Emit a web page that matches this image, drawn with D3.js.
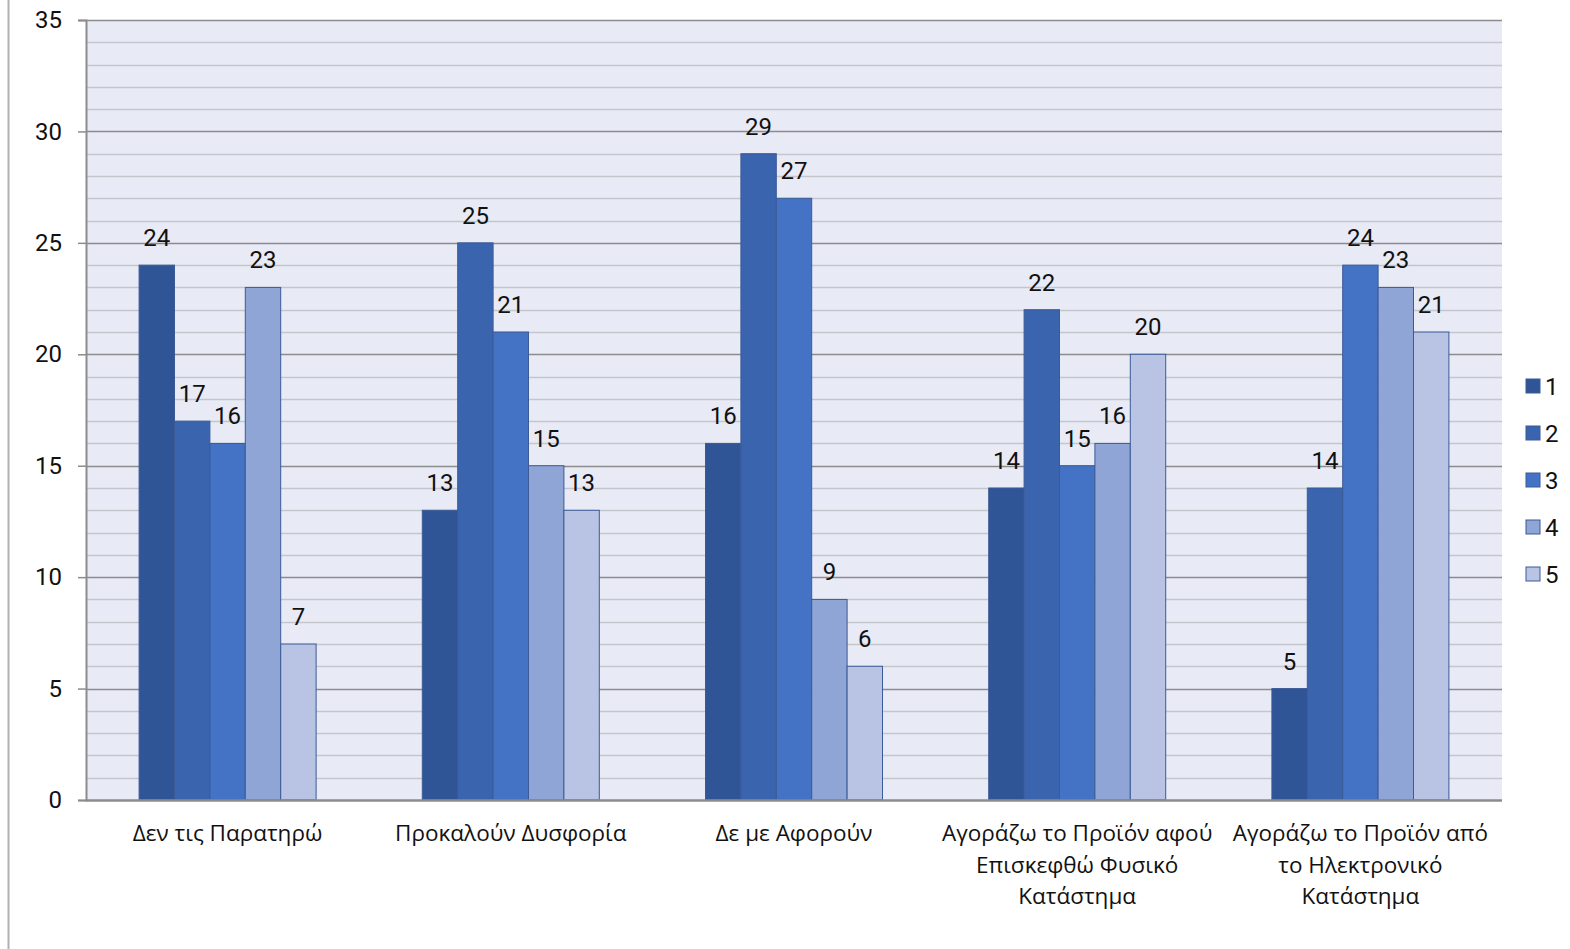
<!DOCTYPE html>
<html>
<head>
<meta charset="utf-8">
<script src="https://cdn.jsdelivr.net/npm/d3@7"></script>
<style>
  body { margin: 0; background: #fff; }
  svg { display: block; }
</style>
</head>
<body>
<svg class="mainSvg" width="1570" height="949"></svg>
<script>
// categories and series straight off the picture
var categories = [
  "Δεν τις Παρατηρώ",
  "Προκαλούν Δυσφορία",
  "Δε με Αφορούν",
  "Αγοράζω το Προϊόν αφού Επισκεφθώ Φυσικό Κατάστημα",
  "Αγοράζω το Προϊόν από το Ηλεκτρονικό Κατάστημα"
];
var catLines = [
  ["Δεν τις Παρατηρώ"],
  ["Προκαλούν Δυσφορία"],
  ["Δε με Αφορούν"],
  ["Αγοράζω το Προϊόν αφού", "Επισκεφθώ Φυσικό", "Κατάστημα"],
  ["Αγοράζω το Προϊόν από", "το Ηλεκτρονικό", "Κατάστημα"]
];
var seriesNames = ["1", "2", "3", "4", "5"];
var s1 = [24, 13, 16, 14, 5];
var s2 = [17, 25, 29, 22, 14];
var s3 = [16, 21, 27, 15, 24];
var s4 = [23, 15, 9, 16, 23];
var s5 = [7, 13, 6, 20, 21];
var yTicks = [0, 5, 10, 15, 20, 25, 30, 35];

var series = [s1, s2, s3, s4, s5];
var colors = ["#2f5597", "#3a64ad", "#4472c4", "#8fa5d6", "#b9c3e3"];

var svg = d3.select(".mainSvg");
var plotLeft = 86, plotRight = 1502, plotTop = 20, plotBottom = 800;

// left frame line
svg.append("line").attr("x1", 8.5).attr("x2", 8.5).attr("y1", 0).attr("y2", 949)
  .attr("stroke", "#b0b0b0").attr("stroke-width", 2);

var y = d3.scaleLinear().domain([0, 35]).range([plotBottom, plotTop]);
var x0 = d3.scaleBand().domain(d3.range(categories.length)).range([plotLeft, plotRight]);
var x1 = d3.scaleBand().domain(d3.range(seriesNames.length)).range([0, 177]);
var groupOff = (x0.bandwidth() - 177) / 2;

svg.append("rect").attr("x", plotLeft).attr("y", plotTop)
  .attr("width", plotRight - plotLeft).attr("height", plotBottom - plotTop)
  .attr("fill", "#e8eaf6");

// minor grid every unit
svg.append("g").selectAll("line").data(d3.range(1, 36).filter(function(d){ return d % 5 != 0; }))
  .enter().append("line")
  .attr("x1", plotLeft).attr("x2", plotRight)
  .attr("y1", function(d){ return Math.round(y(d)) + 0.5; })
  .attr("y2", function(d){ return Math.round(y(d)) + 0.5; })
  .attr("stroke", "#c4c6cc").attr("stroke-width", 1.5);

// major grid
svg.append("g").selectAll("line").data(yTicks.filter(function(d){ return d > 0; }))
  .enter().append("line")
  .attr("x1", plotLeft).attr("x2", plotRight)
  .attr("y1", function(d){ return Math.round(y(d)) + 0.5; })
  .attr("y2", function(d){ return Math.round(y(d)) + 0.5; })
  .attr("stroke", "#8c8c8c").attr("stroke-width", 1.5);

// y axis
var yAxis = svg.append("g").attr("transform", "translate(" + plotLeft + ",0)")
  .call(d3.axisLeft(y).tickValues(yTicks).tickSize(8).tickPadding(16));
yAxis.select(".domain").attr("stroke", "#8c8c8c").attr("stroke-width", 2);
yAxis.selectAll(".tick line").attr("stroke", "#8c8c8c").attr("stroke-width", 1.5);
yAxis.selectAll("text").attr("font-family", "Roboto").attr("font-size", 24).attr("fill", "#111");

// bars
var groups = svg.append("g").selectAll("g").data(categories).enter().append("g")
  .attr("transform", function(d, i){ return "translate(" + (x0(i) + groupOff) + ",0)"; });

groups.selectAll("rect").data(function(d, i){ return series.map(function(s, j){ return {j: j, v: s[i]}; }); })
  .enter().append("rect")
  .attr("x", function(d){ return x1(d.j); })
  .attr("width", x1.bandwidth())
  .attr("y", function(d){ return y(d.v); })
  .attr("height", function(d){ return plotBottom - y(d.v); })
  .attr("fill", function(d){ return colors[d.j]; })
  .attr("stroke", "#3b5a96").attr("stroke-width", 1);

groups.selectAll("text").data(function(d, i){ return series.map(function(s, j){ return {j: j, v: s[i]}; }); })
  .enter().append("text")
  .attr("x", function(d){ return x1(d.j) + x1.bandwidth() / 2; })
  .attr("y", function(d){ return y(d.v) - 19; })
  .attr("text-anchor", "middle")
  .attr("font-family", "Roboto").attr("font-size", 24).attr("fill", "#111")
  .text(function(d){ return d.v; });

// bottom axis line
svg.append("line").attr("x1", plotLeft).attr("x2", plotRight).attr("y1", plotBottom + 0.5).attr("y2", plotBottom + 0.5)
  .attr("stroke", "#8c8c8c").attr("stroke-width", 2.5);

// category labels
catLines.forEach(function(lines, i){
  var t = svg.append("text").attr("text-anchor", "middle")
    .attr("font-family", "Open Sans").attr("font-size", 22.5).attr("fill", "#111");
  lines.forEach(function(l, k){
    t.append("tspan").attr("x", x0(i) + x0.bandwidth() / 2)
      .attr("y", 841 + k * 31.5).text(l);
  });
});

// legend
var legend = svg.append("g").selectAll("g").data(seriesNames).enter().append("g")
  .attr("transform", function(d, i){ return "translate(1526," + (379 + i * 47) + ")"; });
legend.append("rect").attr("width", 14).attr("height", 14)
  .attr("fill", function(d, i){ return colors[i]; })
  .attr("stroke", "#3b5a96").attr("stroke-width", 1);
legend.append("text").attr("x", 19).attr("y", 16)
  .attr("font-family", "Roboto").attr("font-size", 24).attr("fill", "#111")
  .text(function(d){ return d; });
</script>
</body>
</html>
